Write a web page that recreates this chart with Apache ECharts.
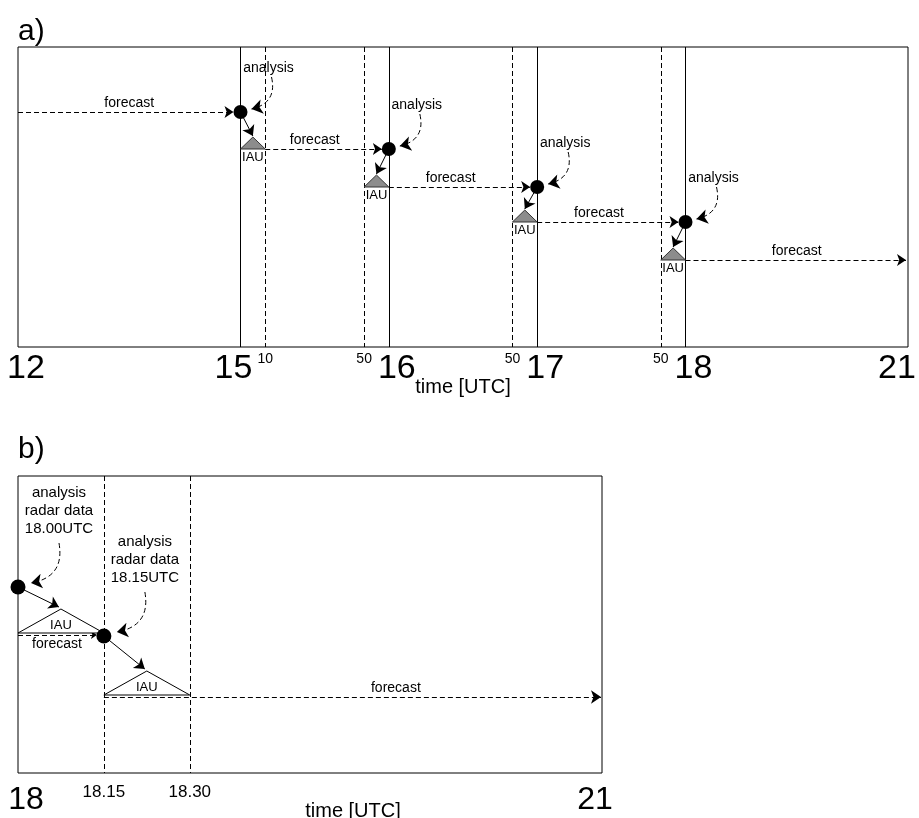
<!DOCTYPE html>
<html>
<head>
<meta charset="utf-8">
<script src="https://cdn.jsdelivr.net/npm/echarts@6/dist/echarts.min.js"></script>
<style>
    html, body { margin: 0; padding: 0; background: #fff; }
    #chart { width: 919px; height: 818px; }
</style>
</head>
<body>
<div id="chart"></div>
<script>
// panel a) hourly cycle
const aAxisTimes = [12, 15, 16, 17, 18, 21]
const aMinuteTicks = [15 + 10 / 60, 15 + 50 / 60, 16 + 50 / 60, 17 + 50 / 60]
const aMinuteLabels = ['10', '50', '50', '50']
const aAnalysisTimes = [15, 16, 17, 18]
const aAnalysisLevels = [65, 102, 140, 175]
const aIauStart = [15, 15 + 50 / 60, 16 + 50 / 60, 17 + 50 / 60]
const aIauEnd = [15 + 10 / 60, 16, 17, 18]
const aIauLevels = [102, 140, 175, 213]

// panel b) 15 minute radar cycle
const bAxisTimes = [18, 18.25, 18.5, 21]
const bAxisLabels = ['18', '18.15', '18.30', '21']
const bAnalysisTimes = [18, 18.25]
const bAnalysisLevels = [111, 160]
const bAnalysisText = ['analysis\nradar data\n18.00UTC', 'analysis\nradar data\n18.15UTC']
const bIauStart = [18, 18.25]
const bIauEnd = [18.25, 18.5]
const bIauLevels = [157, 219]
const bForecastLevels = [159, 221]

// schematic (non linear) time axes
const aBreaks = [[12, 0], [15, 3], [18, 9], [21, 12]]
const bBreaks = [[18, 0], [18.5, 2], [21, 6.8]]
function toX(t, br) {
    for (let i = 1; i < br.length; i++) {
        if (t <= br[i][0] + 1e-9) {
            const t0 = br[i - 1][0], u0 = br[i - 1][1], t1 = br[i][0], u1 = br[i][1]
            return u0 + (t - t0) * (u1 - u0) / (t1 - t0)
        }
    }
    return br[br.length - 1][1]
}
const ax = t => toX(t, aBreaks)
const bx = t => toX(t, bBreaks)
const aU = 12 / 890   // axis units per pixel
const bU = 6.8 / 584
const A_MAX = 300, B_MAX = 297
const FONT = 'Liberation Sans'

function key(v) { return v.toFixed(3) }
const aLabelMap = {}
const aStyles = ['bigR', 'bigL', 'bigR', 'bigR', 'bigR', 'bigLL']
aAxisTimes.forEach((t, i) => { aLabelMap[key(ax(t))] = '{' + aStyles[i] + '|' + t + '}' })
aMinuteTicks.forEach((t, i) => { aLabelMap[key(ax(t))] = '{sm|' + aMinuteLabels[i] + '}' })
const bLabelMap = {}
const bStyles = ['bigR', 'mid', 'mid', 'bigL']
bAxisTimes.forEach((t, i) => { bLabelMap[key(bx(t))] = '{' + bStyles[i] + '|' + bAxisLabels[i] + '}' })

function richStyles(big) {
    return {
        bigR: { fontSize: big, color: '#000', fontFamily: FONT, padding: [0, 0, 0, 16] },
        bigL: { fontSize: big, color: '#000', fontFamily: FONT, padding: [0, 14, 0, 0] },
        bigLL: { fontSize: big, color: '#000', fontFamily: FONT, padding: [0, 22, 0, 0] },
        sm: { fontSize: 14, color: '#000', fontFamily: FONT, padding: [0, 0, 0, 0] },
        mid: { fontSize: 17, color: '#000', fontFamily: FONT }
    }
}

function triangle(fill, stroke) {
    return function (params, api) {
        const x0 = api.value(0), x1 = api.value(1), base = api.value(2), h = api.value(3)
        const p0 = api.coord([x0, base]), p1 = api.coord([x1, base]), p2 = api.coord([(x0 + x1) / 2, base - h])
        return {
            type: 'polygon',
            shape: { points: [p0, p1, p2] },
            style: { fill: fill, stroke: stroke, lineWidth: 1 }
        }
    }
}

function vlines(idx, xs, ymax, dashed) {
    return {
        type: 'lines', coordinateSystem: 'cartesian2d', xAxisIndex: idx, yAxisIndex: idx,
        silent: true, z: 1, symbol: 'none',
        lineStyle: { color: '#000', width: 1, opacity: 1, type: dashed ? [5, 3] : 'solid' },
        data: xs.map(x => ({ coords: [[x, 0], [x, ymax]] }))
    }
}

function arrows(idx, data, opt) {
    return {
        type: 'lines', coordinateSystem: 'cartesian2d', xAxisIndex: idx, yAxisIndex: idx,
        silent: true, z: opt.z || 3,
        symbol: ['none', 'arrow'], symbolSize: opt.size || 10,
        lineStyle: { color: '#000', width: 1, opacity: 1, type: opt.dashed ? [5, 3] : 'solid', curveness: opt.curve || 0 },
        data: data
    }
}

function texts(idx, data, size, lh) {
    return {
        type: 'scatter', xAxisIndex: idx, yAxisIndex: idx, silent: true, z: 6,
        symbolSize: 1, itemStyle: { color: 'transparent', opacity: 1 },
        label: {
            show: true, position: 'inside', formatter: '{b}', color: '#000', opacity: 1,
            fontSize: size, fontFamily: FONT, lineHeight: lh || size
        },
        data: data.map(d => ({ value: [d[0], d[1]], name: d[2] }))
    }
}

// ---- panel a marks
const aForecast = [{ coords: [[ax(12), aAnalysisLevels[0]], [ax(aAnalysisTimes[0]) - 7 * aU, aAnalysisLevels[0]]] }]
const aForecastText = [[(ax(12) + ax(aIauStart[0])) / 2, aAnalysisLevels[0] - 9, 'forecast']]
aIauEnd.forEach((t, k) => {
    const last = k + 1 >= aAnalysisTimes.length
    const endX = last ? ax(21) - 2 * aU : ax(aAnalysisTimes[k + 1]) - 7 * aU
    aForecast.push({ coords: [[ax(t), aIauLevels[k]], [endX, aIauLevels[k]]] })
    const spanEnd = last ? ax(21) : ax(aIauStart[k + 1])
    aForecastText.push([(ax(t) + spanEnd) / 2, aIauLevels[k] - 9, 'forecast'])
})
const aAnalysisArrows = aAnalysisTimes.map((t, k) => ({
    coords: [[ax(t) + 31 * aU, aAnalysisLevels[k] - 35], [ax(t) + 11 * aU, aAnalysisLevels[k] - 3]]
}))
const aIauArrows = aAnalysisTimes.map((t, k) => ({
    coords: [[ax(t), aAnalysisLevels[k]], [(ax(aIauStart[k]) + ax(aIauEnd[k])) / 2, aIauLevels[k] - 13]]
}))
const aTextItems = aAnalysisTimes.map((t, k) => [ax(t) + 28 * aU, aAnalysisLevels[k] - 44, 'analysis'])
const aIauText = aIauStart.map((t, k) => [(ax(t) + ax(aIauEnd[k])) / 2, aIauLevels[k] + 8, 'IAU'])

// ---- panel b marks
const bForecast1 = [{ coords: [[bx(18), bForecastLevels[0]], [bx(bAnalysisTimes[1]) - 7 * bU, bForecastLevels[0]]] }]
const bForecast2 = [{ coords: [[bx(18.25), bForecastLevels[1]], [bx(21) - 1 * bU, bForecastLevels[1]]] }]
const bForecastText = [
    [(bx(18) + bx(18.25)) / 2 - 4 * bU, bForecastLevels[0] + 9, 'forecast'],
    [(bx(18.5) + bx(21)) / 2, bForecastLevels[1] - 9, 'forecast']
]
const bAnalysisArrows = bAnalysisTimes.map((t, k) => ({
    coords: [[bx(t) + 41 * bU, bAnalysisLevels[k] - 44], [bx(t) + 13 * bU, bAnalysisLevels[k] - 4]]
}))
const bIauArrows = bAnalysisTimes.map((t, k) => ({
    coords: [[bx(t), bAnalysisLevels[k]], [(bx(bIauStart[k]) + bx(bIauEnd[k])) / 2 - 2 * bU, bIauLevels[k] - 26]]
}))
const bTextItems = bAnalysisTimes.map((t, k) => [bx(t) + 41 * bU, bAnalysisLevels[k] - 76, bAnalysisText[k]])
const bIauText = bIauStart.map((t, k) => [(bx(t) + bx(bIauEnd[k])) / 2, bIauLevels[k] - 8, 'IAU'])

const titleStyle = { fontSize: 30, fontWeight: 'normal', color: '#000', fontFamily: FONT }
const chart = echarts.init(document.getElementById('chart'))
chart.setOption({
    animation: false,
    textStyle: { fontFamily: FONT },
    title: [
        { text: 'a)', left: 18, top: 17, padding: 0, textStyle: titleStyle },
        { text: 'b)', left: 18, top: 435, padding: 0, textStyle: titleStyle }
    ],
    grid: [
        { left: 18, top: 47, width: 890, height: A_MAX, outerBoundsMode: 'none', show: true, borderColor: '#000', borderWidth: 1, backgroundColor: 'transparent' },
        { left: 18, top: 476, width: 584, height: B_MAX, outerBoundsMode: 'none', show: true, borderColor: '#000', borderWidth: 1, backgroundColor: 'transparent' }
    ],
    xAxis: [
        {
            type: 'value', gridIndex: 0, min: 0, max: 12,
            axisLine: { show: false }, axisTick: { show: false }, splitLine: { show: false },
            axisLabel: {
                customValues: Object.keys(aLabelMap).map(Number),
                showMinLabel: true, showMaxLabel: true, margin: 5,
                formatter: v => aLabelMap[key(v)] || '',
                rich: richStyles(34)
            },
            name: 'time [UTC]', nameLocation: 'middle', nameGap: 30, nameMoveOverlap: false,
            nameTextStyle: { fontSize: 20, color: '#000', fontFamily: FONT }
        },
        {
            type: 'value', gridIndex: 1, min: 0, max: 6.8,
            axisLine: { show: false }, axisTick: { show: false }, splitLine: { show: false },
            axisLabel: {
                customValues: Object.keys(bLabelMap).map(Number),
                showMinLabel: true, showMaxLabel: true, margin: 11,
                formatter: v => bLabelMap[key(v)] || '',
                rich: richStyles(32)
            },
            name: 'time [UTC]', nameLocation: 'middle', nameGap: 28, nameMoveOverlap: false,
            nameTextStyle: { fontSize: 20, color: '#000', fontFamily: FONT, padding: [0, 0, 0, 86] }
        }
    ],
    yAxis: [
        { type: 'value', gridIndex: 0, min: 0, max: A_MAX, inverse: true, show: false },
        { type: 'value', gridIndex: 1, min: 0, max: B_MAX, inverse: true, show: false }
    ],
    series: [
        // panel a
        vlines(0, aAnalysisTimes.map(ax), A_MAX, false),
        vlines(0, aMinuteTicks.map(ax), A_MAX, true),
        arrows(0, aForecast, { dashed: true, size: 9, z: 2 }),
        {
            type: 'custom', xAxisIndex: 0, yAxisIndex: 0, silent: true, z: 3,
            renderItem: triangle('#8c8c8c', '#333'),
            data: aIauStart.map((t, k) => [ax(t), ax(aIauEnd[k]), aIauLevels[k], 12])
        },
        arrows(0, aAnalysisArrows, { dashed: true, curve: 0.5, size: 11 }),
        arrows(0, aIauArrows, { size: 10 }),
        {
            type: 'scatter', xAxisIndex: 0, yAxisIndex: 0, silent: true, z: 5,
            symbolSize: 14, itemStyle: { color: '#000', opacity: 1 },
            data: aAnalysisTimes.map((t, k) => [ax(t), aAnalysisLevels[k]])
        },
        texts(0, aTextItems, 14),
        texts(0, aIauText, 13),
        texts(0, aForecastText, 14),
        // panel b
        vlines(1, [bx(18.25), bx(18.5)], B_MAX, true),
        arrows(1, bForecast1, { dashed: true, size: 6, z: 2 }),
        arrows(1, bForecast2, { dashed: true, size: 10, z: 2 }),
        {
            type: 'custom', xAxisIndex: 1, yAxisIndex: 1, silent: true, z: 3,
            renderItem: triangle('#fff', '#000'),
            data: bIauStart.map((t, k) => [bx(t), bx(bIauEnd[k]), bIauLevels[k], 24])
        },
        arrows(1, bAnalysisArrows, { dashed: true, curve: 0.5, size: 11 }),
        arrows(1, bIauArrows, { size: 10 }),
        {
            type: 'scatter', xAxisIndex: 1, yAxisIndex: 1, silent: true, z: 5,
            symbolSize: 15, itemStyle: { color: '#000', opacity: 1 },
            data: bAnalysisTimes.map((t, k) => [bx(t), bAnalysisLevels[k]])
        },
        texts(1, bTextItems, 15, 18),
        texts(1, bIauText, 13),
        texts(1, bForecastText, 14)
    ]
})
</script>
</body>
</html>
